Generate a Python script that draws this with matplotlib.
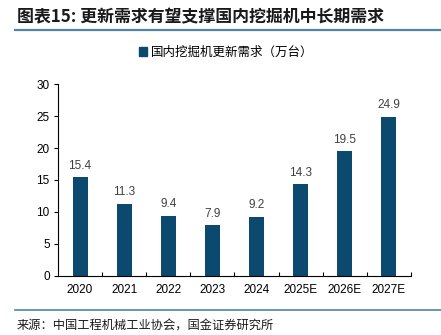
import matplotlib
matplotlib.use("Agg")
import matplotlib.pyplot as plt
from matplotlib.lines import Line2D

plt.rcParams['font.family'] = ['Liberation Sans', 'Noto Sans CJK SC', 'DejaVu Sans']

# Domestic excavator replacement demand (10k units)
years = ['2020', '2021', '2022', '2023', '2024', '2025E', '2026E', '2027E']
demand = [15.4, 11.3, 9.4, 7.9, 9.2, 14.3, 19.5, 24.9]

bar_color = '#0b4a6e'
rule_color = '#4f86a6'

W, H = 441, 335
fig = plt.figure(figsize=(W / 100, H / 100), dpi=100)

# axes box in pixel coords
left, right, top, bottom = 58, 411, 84.3, 275.7
ax = fig.add_axes([left / W, 1 - bottom / H, (right - left) / W, (bottom - top) / H])

x = range(len(years))
ax.bar(x, demand, width=0.34, color=bar_color)
for xi, v in zip(x, demand):
    ax.text(xi, v + 0.9, f'{v:.1f}', ha='center', va='bottom', fontsize=8.5, color='#404040')

ax.set_xlim(-0.5, len(years) - 0.5)
ax.set_ylim(0, 30)
ax.set_yticks(range(0, 31, 5))
ax.set_xticks(list(x))
ax.set_xticklabels(years)
ax.set_xticks([i + 0.5 for i in x], minor=True)
ax.tick_params(axis='x', which='major', length=0, pad=6, labelsize=8.5)
ax.tick_params(axis='x', which='minor', direction='in', length=3, width=0.8)
ax.tick_params(axis='y', direction='out', length=3, width=0.8, labelsize=8.5, pad=3)
for s in ['top', 'right']:
    ax.spines[s].set_visible(False)
for s in ['left', 'bottom']:
    ax.spines[s].set_linewidth(0.8)

# legend above the plot
ax.legend(handles=[plt.Rectangle((0, 0), 1, 1, color=bar_color)],
          labels=['国内挖掘机更新需求（万台）'],
          loc='center', bbox_to_anchor=(226 / W, 1 - 52 / H), bbox_transform=fig.transFigure,
          frameon=False, handlelength=0.7, handleheight=0.7, handletextpad=0.3,
          prop={'family': ['Noto Sans CJK SC'], 'size': 9})

# title and rules
fig.text(17 / W, 1 - 17 / H, '图表15: 更新需求有望支撑国内挖掘机中长期需求',
         fontsize=12.2, fontweight='bold', style='italic', color='#1a1a1a',
         va='center', ha='left', family=['Noto Sans CJK SC'])
fig.add_artist(Line2D([15 / W, 1], [1 - 30 / H] * 2, color=rule_color, lw=1.6))
fig.add_artist(Line2D([15 / W, 1], [1 - 310 / H] * 2, color=rule_color, lw=1.2))

fig.text(17 / W, 1 - 326 / H, '来源：中国工程机械工业协会，国金证券研究所',
         fontsize=8.8, color='#1a1a1a', va='center', ha='left', family=['Noto Sans CJK SC'])

fig.savefig('out.png', dpi=100)
